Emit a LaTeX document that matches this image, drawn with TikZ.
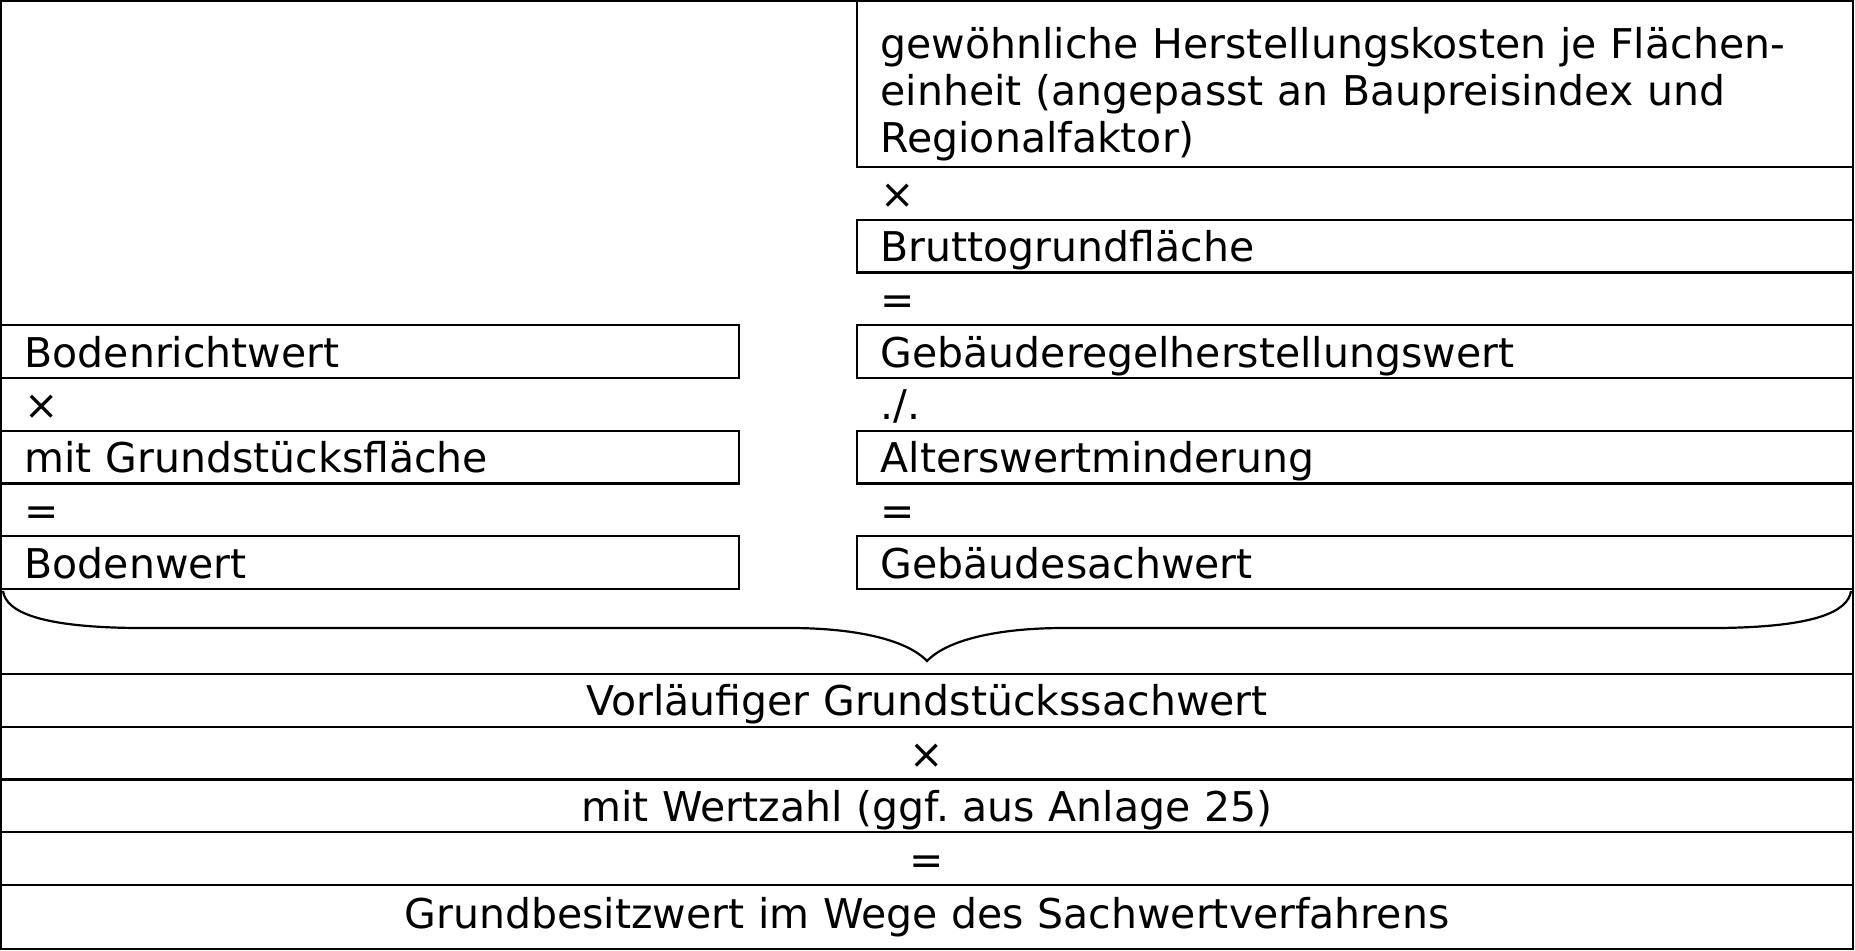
\documentclass[tikz,border=0pt]{standalone}
\usepackage{fontspec}
\setmainfont{DejaVu Sans}
\frenchspacing
\usetikzlibrary{positioning}
\newcommand{\rowheight}{26.375pt}
\tikzstyle{cell}=[inner xsep=11.8pt, inner ysep=0, outer sep=0, minimum height=\rowheight,
                  text height=15.4pt, text depth=0pt, font=\fontsize{20.5pt}{23.5pt}\selectfont]
\tikzstyle{lcell}=[cell, minimum width=369pt, text width=345.4pt, align=left]
\tikzstyle{rcell}=[cell, minimum width=498pt, text width=474.4pt, align=left]
\tikzstyle{wcell}=[cell, minimum width=926pt, text width=902.4pt, align=center]
\tikzstyle{valbox}=[draw, line width=1.1pt]
\tikzstyle{sachwert}=[x=0.5pt, y=-0.5pt, line width=1.1pt]

\begin{document}
\begin{tikzpicture}[sachwert]
    \useasboundingbox (0,0) rectangle (1855,951);
    % Gebaeude
    \node[rcell, valbox, anchor=north west, minimum height=83pt, text depth=40.4pt] (hk) at (857,1)
        {gewöhnliche Herstellungskosten je Flächen-\\einheit (angepasst an Baupreisindex und\\Regionalfaktor)};
    \node[rcell, below=0pt of hk]            (mal1)  {×};
    \node[rcell, valbox, below=0pt of mal1]  (bgf)   {Bruttogrundfläche};
    \node[rcell, below=0pt of bgf]           (gl1)   {=};
    \node[rcell, valbox, below=0pt of gl1]   (ghw)   {Gebäuderegelherstellungswert};
    \node[rcell, below=0pt of ghw]           (minus) {./.};
    \node[rcell, valbox, below=0pt of minus] (awm)   {Alterswertminderung};
    \node[rcell, below=0pt of awm]           (gl2)   {=};
    \node[rcell, valbox, below=0pt of gl2]   (gsw)   {Gebäudesachwert};
    % Boden
    \node[lcell, valbox, left=59pt of ghw]   (brw)   {Bodenrichtwert};
    \node[lcell, below=0pt of brw]           (mal2)  {×};
    \node[lcell, valbox, below=0pt of mal2]  (gsf)   {mit Grundstücksfläche};
    \node[lcell, below=0pt of gsf]           (gl3)   {=};
    \node[lcell, valbox, below=0pt of gl3]   (bw)    {Bodenwert};
    % Grundstueck
    \node[wcell, valbox, anchor=north west] (vgsw) at (1,674) {Vorläufiger Grundstückssachwert};
    \node[wcell, below=0pt of vgsw]          (mal3)  {×};
    \node[wcell, valbox, below=0pt of mal3]  (wz)    {mit Wertzahl (ggf. aus Anlage 25)};
    \node[wcell, below=0pt of wz]            (gl4)   {=};
    \node[wcell, valbox, below=0pt of gl4, minimum height=32pt, text depth=4.4pt] (gbw)
        {Grundbesitzwert im Wege des Sachwertverfahrens};
    \draw (gbw.south west |- hk.north) rectangle (gbw.south east);
    % Klammer
    \coordinate (bra) at (3,591);
    \coordinate (tip) at (927,661);
    \coordinate (brb) at (1851,591);
    \draw (bra) .. controls (6,612) and (40,627) .. (135,628) -- (790,628)
        .. controls (850,628) and (905,638) .. (tip)
        .. controls (949,638) and (1004,628) .. (1064,628) -- (1719,628)
        .. controls (1814,627) and (1848,612) .. (brb);
\end{tikzpicture}
\end{document}
